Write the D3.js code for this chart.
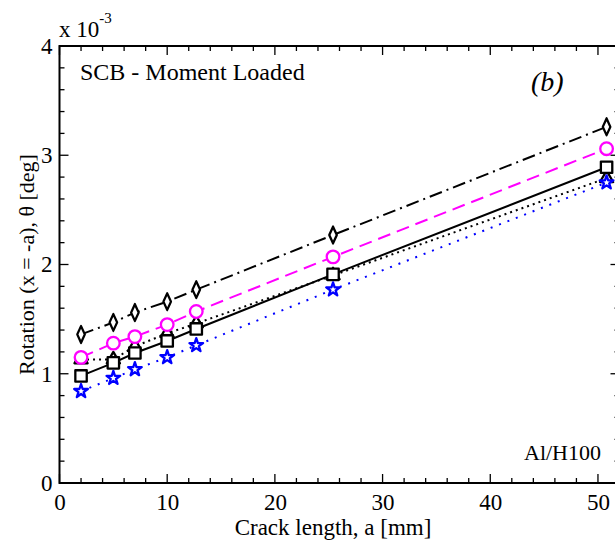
<!DOCTYPE html>
<html><head><meta charset="utf-8">
<script src="https://cdn.jsdelivr.net/npm/d3@7"></script>
<style>body{margin:0;background:#fff}svg{display:block}svg text{font-family:"Liberation Serif","Times New Roman",Times,serif !important;fill:#000}</style>
</head><body><div id="chart"></div>
<script>
const crackLength = [2, 5, 7, 10, 12.7, 25.4, 50.8];
const seriesDiamond = [1.36, 1.47, 1.56, 1.66, 1.77, 2.27, 3.26];
const seriesCircle = [1.15, 1.28, 1.34, 1.45, 1.57, 2.07, 3.06];
const seriesTriangle = [1.13, 1.13, 1.25, 1.37, 1.46, 1.90, 2.79];
const seriesSquare = [0.98, 1.10, 1.19, 1.30, 1.41, 1.91, 2.89];
const seriesStar = [0.84, 0.96, 1.04, 1.15, 1.26, 1.77, 2.75];
const xTicks = [0, 10, 20, 30, 40, 50];
const yTicks = [0, 1, 2, 3, 4];

const W = 615, H = 546;
const FONT = "Liberation Serif";
const svg = d3.select("#chart").append("svg").attr("width", W).attr("height", H)
  .attr("font-family", FONT);
const x = d3.scaleLinear().domain([0, 52]).range([59.5, 619.5]);
const y = d3.scaleLinear().domain([0, 4]).range([483, 46]);

const xMinor = d3.range(0, 53, 2);
const yMinor = d3.range(0, 4.01, 0.2).map(v => +v.toFixed(2));

// bottom axis labels
svg.append("g").attr("transform", `translate(0,${y(0)})`)
  .call(d3.axisBottom(x).tickValues(xTicks).tickFormat(d3.format("d")).tickSize(0).tickPadding(11))
  .call(a => a.select(".domain").remove())
  .call(a => a.attr("font-family", FONT).attr("font-size", 23))
  .call(a => a.selectAll("text").attr("fill", "#000"));
// left axis labels
svg.append("g").attr("transform", `translate(${x(0)},0)`)
  .call(d3.axisLeft(y).tickValues(yTicks).tickFormat(d3.format("d")).tickSize(0).tickPadding(7))
  .call(a => a.select(".domain").remove())
  .call(a => a.attr("font-family", FONT).attr("font-size", 23))
  .call(a => a.selectAll("text").attr("fill", "#000"));

const tk = svg.append("g").attr("stroke", "#000").attr("stroke-width", 1.3);
xMinor.forEach(v => {
  const len = (v % 10 === 0) ? 9 : 5;
  tk.append("line").attr("x1", x(v)).attr("x2", x(v)).attr("y1", y(0)).attr("y2", y(0) - len);
  tk.append("line").attr("x1", x(v)).attr("x2", x(v)).attr("y1", y(4)).attr("y2", y(4) + len);
});
yMinor.forEach(v => {
  const len = (Math.abs(v - Math.round(v)) < 1e-6) ? 9 : 5;
  tk.append("line").attr("x1", x(0)).attr("x2", x(0) + len).attr("y1", y(v)).attr("y2", y(v));
  tk.append("line").attr("x1", x(52)).attr("x2", x(52) - len).attr("y1", y(v)).attr("y2", y(v));
});
svg.append("rect").attr("x", x(0)).attr("y", y(4)).attr("width", x(52) - x(0)).attr("height", y(0) - y(4))
  .attr("fill", "none").attr("stroke", "#000").attr("stroke-width", 2);

// series
const line = d3.line().x((d, i) => x(crackLength[i])).y(d => y(d));
const series = [
  {v: seriesTriangle, color: "#000", dash: "2,4", m: "triangle"},
  {v: seriesSquare, color: "#000", dash: null, m: "square"},
  {v: seriesCircle, color: "#ff00ff", dash: "13,7", m: "circle"},
  {v: seriesDiamond, color: "#000", dash: "13,5,2,5", m: "diamond"},
  {v: seriesStar, color: "#0000ff", dash: "2,7", m: "star"}
];
const symMap = {triangle: d3.symbolTriangle, square: d3.symbolSquare, circle: d3.symbolCircle, diamond: d3.symbolDiamond, star: d3.symbolStar};
const symSize = {triangle: 75, square: 130, circle: 125, diamond: 55, star: 58};
series.forEach(s => {
  svg.append("path").datum(s.v).attr("d", line).attr("fill", "none")
    .attr("stroke", s.color).attr("stroke-width", 2).attr("stroke-dasharray", s.dash);
});
series.forEach(s => {
  const sym = d3.symbol().type(symMap[s.m]).size(symSize[s.m]);
  svg.append("g").selectAll("path").data(s.v).join("path")
    .attr("d", sym)
    .attr("transform", (d, i) => s.m === "diamond"
      ? `translate(${x(crackLength[i])},${y(d)}) scale(0.95,1.2)`
      : `translate(${x(crackLength[i])},${y(d)})`)
    .attr("fill", "#fff").attr("stroke", s.color)
    .attr("stroke-width", 2.3).attr("stroke-linejoin", "round");
});

// texts
svg.append("text").attr("x", 59).attr("y", 37).attr("font-size", 23)
  .text("x 10").append("tspan").attr("dy", -14).attr("font-size", 15).text("-3");
svg.append("text").attr("x", 80).attr("y", 80).attr("font-size", 24).text("SCB - Moment Loaded");
svg.append("text").attr("x", 531).attr("y", 91).attr("font-size", 28).attr("font-style", "italic").text("(b)");
svg.append("text").attr("x", 601).attr("y", 460).attr("font-size", 22).attr("text-anchor", "end").text("Al/H100");
svg.append("text").attr("x", 333).attr("y", 535).attr("font-size", 23).attr("text-anchor", "middle").text("Crack length, a [mm]");
svg.append("text").attr("transform", `translate(34,${(y(0) + y(4)) / 2}) rotate(-90)`).attr("font-size", 22)
  .attr("text-anchor", "middle").text("Rotation (x = -a), θ [deg]");
</script></body></html>
